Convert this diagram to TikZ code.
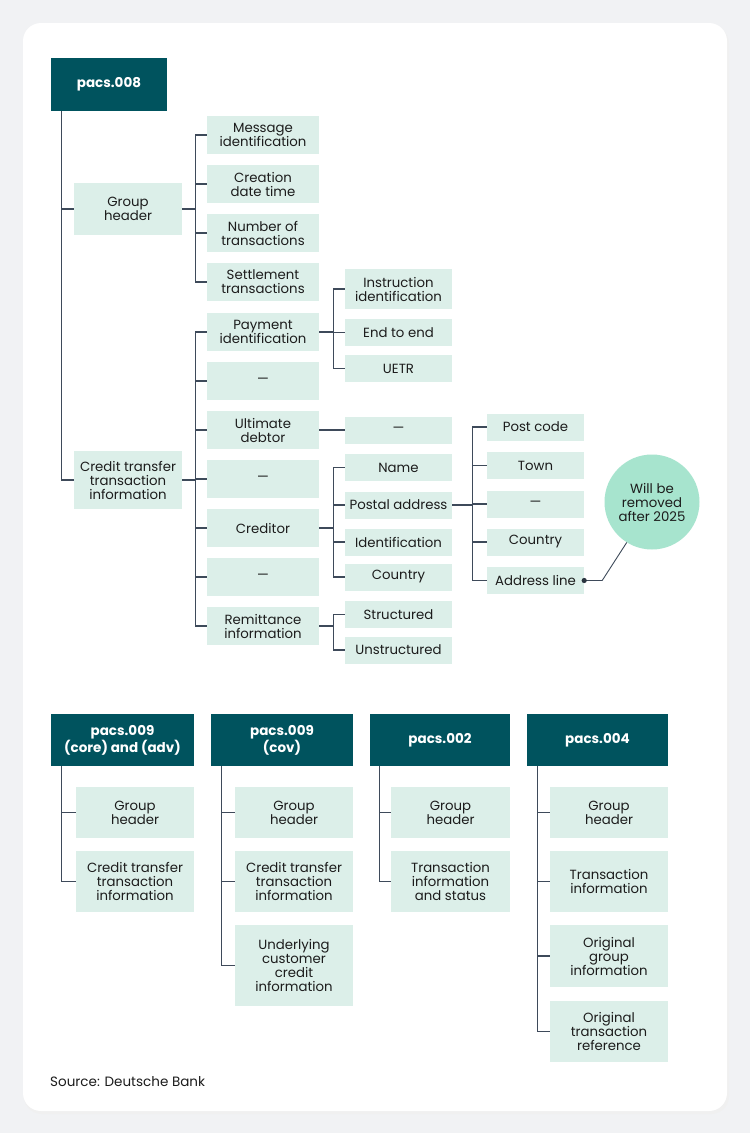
\documentclass[tikz,border=0pt]{standalone}
\usepackage{fontspec}
\setmainfont{Poppins}
\definecolor{headcol}{HTML}{00535E}
\definecolor{leafcol}{HTML}{DCEFE9}
\definecolor{wirecol}{HTML}{3E4A5A}
\definecolor{mintcol}{HTML}{A7E4CE}
\definecolor{pagecol}{HTML}{F1F2F4}
\definecolor{inkcol}{HTML}{1C1C1C}
\pgfdeclarelayer{background layer}
\pgfsetlayers{background layer,main}
\tikzstyle{msgbox}=[fill=headcol,text=white,font=\bfseries\fontsize{13.5}{15}\selectfont,align=center,inner sep=0pt]
\tikzstyle{field}=[fill=leafcol,text=inkcol,font=\fontsize{13.3}{14}\selectfont,align=center,inner sep=0pt]
\tikzstyle{lvone}=[field,minimum width=108pt]
\tikzstyle{lvtwo}=[field,minimum width=112pt,minimum height=38pt]
\tikzstyle{lvthree}=[field,minimum width=107pt,minimum height=27pt]
\tikzstyle{lvfour}=[field,minimum width=97pt,minimum height=27pt]
\tikzstyle{sub}=[field,minimum width=118pt]
\tikzstyle{wire}=[draw=wirecol,line width=1.1pt]

\begin{document}
\begin{tikzpicture}[x=1pt,y=-1pt]
			% pacs.008
			\node (p008) at (109,84.5) [msgbox,minimum width=116pt,minimum height=53pt] {pacs.008};
			\node (gh) at (128,209) [lvone,minimum height=52pt] {Group\\header};
			\node (ctti) at (128,480) [lvone,minimum height=58pt] {Credit transfer\\transaction\\information};
			\node (msgid) at (263,135) [lvtwo] {Message\\identification};
			\node (credt) at (263,184) [lvtwo] {Creation\\date time};
			\node (nbtx) at (263,233) [lvtwo] {Number of\\transactions};
			\node (sttl) at (263,282) [lvtwo] {Settlement\\transactions};
			\node (pmtid) at (263,332) [lvtwo] {Payment\\identification};
			\node (gapa) at (263,381) [lvtwo] {—};
			\node (ultdb) at (263,430) [lvtwo] {Ultimate\\debtor};
			\node (gapb) at (263,479) [lvtwo] {—};
			\node (cdtr) at (263,528) [lvtwo] {Creditor};
			\node (gapc) at (263,577) [lvtwo] {—};
			\node (rmtinf) at (263,626) [lvtwo] {Remittance\\information};
			\node (instrid) at (398.5,289) [lvthree,minimum height=40pt] {Instruction\\identification};
			\node (endtoend) at (398.5,332.5) [lvthree] {End to end};
			\node (uetr) at (398.5,368.5) [lvthree] {UETR};
			\node (ultdash) at (398.5,430) [lvthree] {—};
			\node (nm) at (398.5,467.5) [lvthree] {Name};
			\node (pstladr) at (398.5,505) [lvthree] {Postal address};
			\node (cdtrid) at (398.5,542) [lvthree] {Identification};
			\node (cdtrctry) at (398.5,577) [lvthree] {Country};
			\node (strd) at (398.5,614.5) [lvthree] {Structured};
			\node (ustrd) at (398.5,650) [lvthree] {Unstructured};
			\node (pstcd) at (535.5,427) [lvfour] {Post code};
			\node (twn) at (535.5,465.5) [lvfour] {Town};
			\node (adrdash) at (535.5,504) [lvfour] {—};
			\node (ctry) at (535.5,542) [lvfour] {Country};
			\node (adrline) at (535.5,580.5) [lvfour] {Address line};
			\node (note) at (652,502) [field,circle,fill=mintcol,minimum size=95pt] {Will be\\removed\\after 2025};
			% pacs.009, pacs.002, pacs.004
			\node (p009a) at (122.5,740) [msgbox,minimum width=143pt,minimum height=52pt] {pacs.009\\(core) and (adv)};
			\node (gh9a) at (135,812.5) [sub,minimum height=51pt] {Group\\header};
			\node (ctti9a) at (135,881.5) [sub,minimum height=61pt] {Credit transfer\\transaction\\information};
			\node (p009c) at (282,740) [msgbox,minimum width=142pt,minimum height=52pt] {pacs.009\\(cov)};
			\node (gh9c) at (294,812.5) [sub,minimum height=51pt] {Group\\header};
			\node (ctti9c) at (294,881.5) [sub,minimum height=61pt] {Credit transfer\\transaction\\information};
			\node (undrl) at (294,965.5) [sub,minimum height=81pt] {Underlying\\customer\\credit\\information};
			\node (p002) at (440,740) [msgbox,minimum width=140pt,minimum height=52pt] {pacs.002};
			\node (gh2) at (450.5,812.5) [sub,minimum width=119pt,minimum height=51pt] {Group\\header};
			\node (txsts) at (450.5,881.5) [sub,minimum width=119pt,minimum height=61pt] {Transaction\\information\\and status};
			\node (p004) at (597.5,740) [msgbox,minimum width=141pt,minimum height=52pt] {pacs.004};
			\node (gh4) at (609,812.5) [sub,minimum height=51pt] {Group\\header};
			\node (txinf) at (609,881.5) [sub,minimum height=61pt] {Transaction\\information};
			\node (orggrp) at (609,956) [sub,minimum height=62pt] {Original\\group\\information};
			\node (orgtx) at (609,1031.5) [sub,minimum height=61pt] {Original\\transaction\\reference};
			\node (src) at (50,1082) [anchor=west,text=inkcol,font=\fontsize{13.5}{14}\selectfont,inner sep=0pt] {Source: Deutsche Bank};
			\begin{pgfonlayer}{background layer}
				% page and card
				\fill[pagecol] (0,0) rectangle (750,1133);
				\fill[black!6,rounded corners=18pt] (24,26) rectangle (729,1114);
				\fill[white,rounded corners=18pt] (23,23) rectangle (727,1111);
				\draw [wire] ([xshift=11pt]p008.south west) |- (gh.west);
				\draw [wire] ([xshift=11pt]p008.south west) |- (ctti.west);
				\draw [wire] (gh.east) -- ++(13,0) |- (msgid.west);
				\draw [wire] (gh.east) -- ++(13,0) |- (credt.west);
				\draw [wire] (gh.east) -- ++(13,0) |- (nbtx.west);
				\draw [wire] (gh.east) -- ++(13,0) |- (sttl.west);
				\draw [wire] (ctti.east) -- ++(13,0) |- (pmtid.west);
				\draw [wire] (ctti.east) -- ++(13,0) |- (gapa.west);
				\draw [wire] (ctti.east) -- ++(13,0) |- (ultdb.west);
				\draw [wire] (ctti.east) -- ++(13,0) |- (gapb.west);
				\draw [wire] (ctti.east) -- ++(13,0) |- (cdtr.west);
				\draw [wire] (ctti.east) -- ++(13,0) |- (gapc.west);
				\draw [wire] (ctti.east) -- ++(13,0) |- (rmtinf.west);
				\draw [wire] (pmtid.east) -- ++(14,0) |- (instrid.west);
				\draw [wire] (pmtid.east) -- ++(14,0) |- (endtoend.west);
				\draw [wire] (pmtid.east) -- ++(14,0) |- (uetr.west);
				\draw [wire] (ultdb.east) -- (ultdash.west);
				\draw [wire] (cdtr.east) -- ++(14,0) |- (nm.west);
				\draw [wire] (cdtr.east) -- ++(14,0) |- (pstladr.west);
				\draw [wire] (cdtr.east) -- ++(14,0) |- (cdtrid.west);
				\draw [wire] (cdtr.east) -- ++(14,0) |- (cdtrctry.west);
				\draw [wire] (rmtinf.east) -- ++(14,0) |- (strd.west);
				\draw [wire] (rmtinf.east) -- ++(14,0) |- (ustrd.west);
				\draw [wire] (pstladr.east) -- ++(20,0) |- (pstcd.west);
				\draw [wire] (pstladr.east) -- ++(20,0) |- (twn.west);
				\draw [wire] (pstladr.east) -- ++(20,0) |- (adrdash.west);
				\draw [wire] (pstladr.east) -- ++(20,0) |- (ctry.west);
				\draw [wire] (pstladr.east) -- ++(20,0) |- (adrline.west);
				\draw [wire] ([xshift=11pt]p009a.south west) |- (gh9a.west);
				\draw [wire] ([xshift=11pt]p009a.south west) |- (ctti9a.west);
				\draw [wire] ([xshift=11pt]p009c.south west) |- (gh9c.west);
				\draw [wire] ([xshift=11pt]p009c.south west) |- (ctti9c.west);
				\draw [wire] ([xshift=11pt]p009c.south west) |- (undrl.west);
				\draw [wire] ([xshift=10pt]p002.south west) |- (gh2.west);
				\draw [wire] ([xshift=10pt]p002.south west) |- (txsts.west);
				\draw [wire] ([xshift=11pt]p004.south west) |- (gh4.west);
				\draw [wire] ([xshift=11pt]p004.south west) |- (txinf.west);
				\draw [wire] ([xshift=11pt]p004.south west) |- (orggrp.west);
				\draw [wire] ([xshift=11pt]p004.south west) |- (orgtx.west);
			\end{pgfonlayer}
			% note pointer
			\draw [wire,line width=0.9pt] (adrline.east) -- ++(18,0) -- (note.238);
			\fill [wirecol!70!black] (adrline.east) circle (2.6pt);
		\end{tikzpicture}
\end{document}
